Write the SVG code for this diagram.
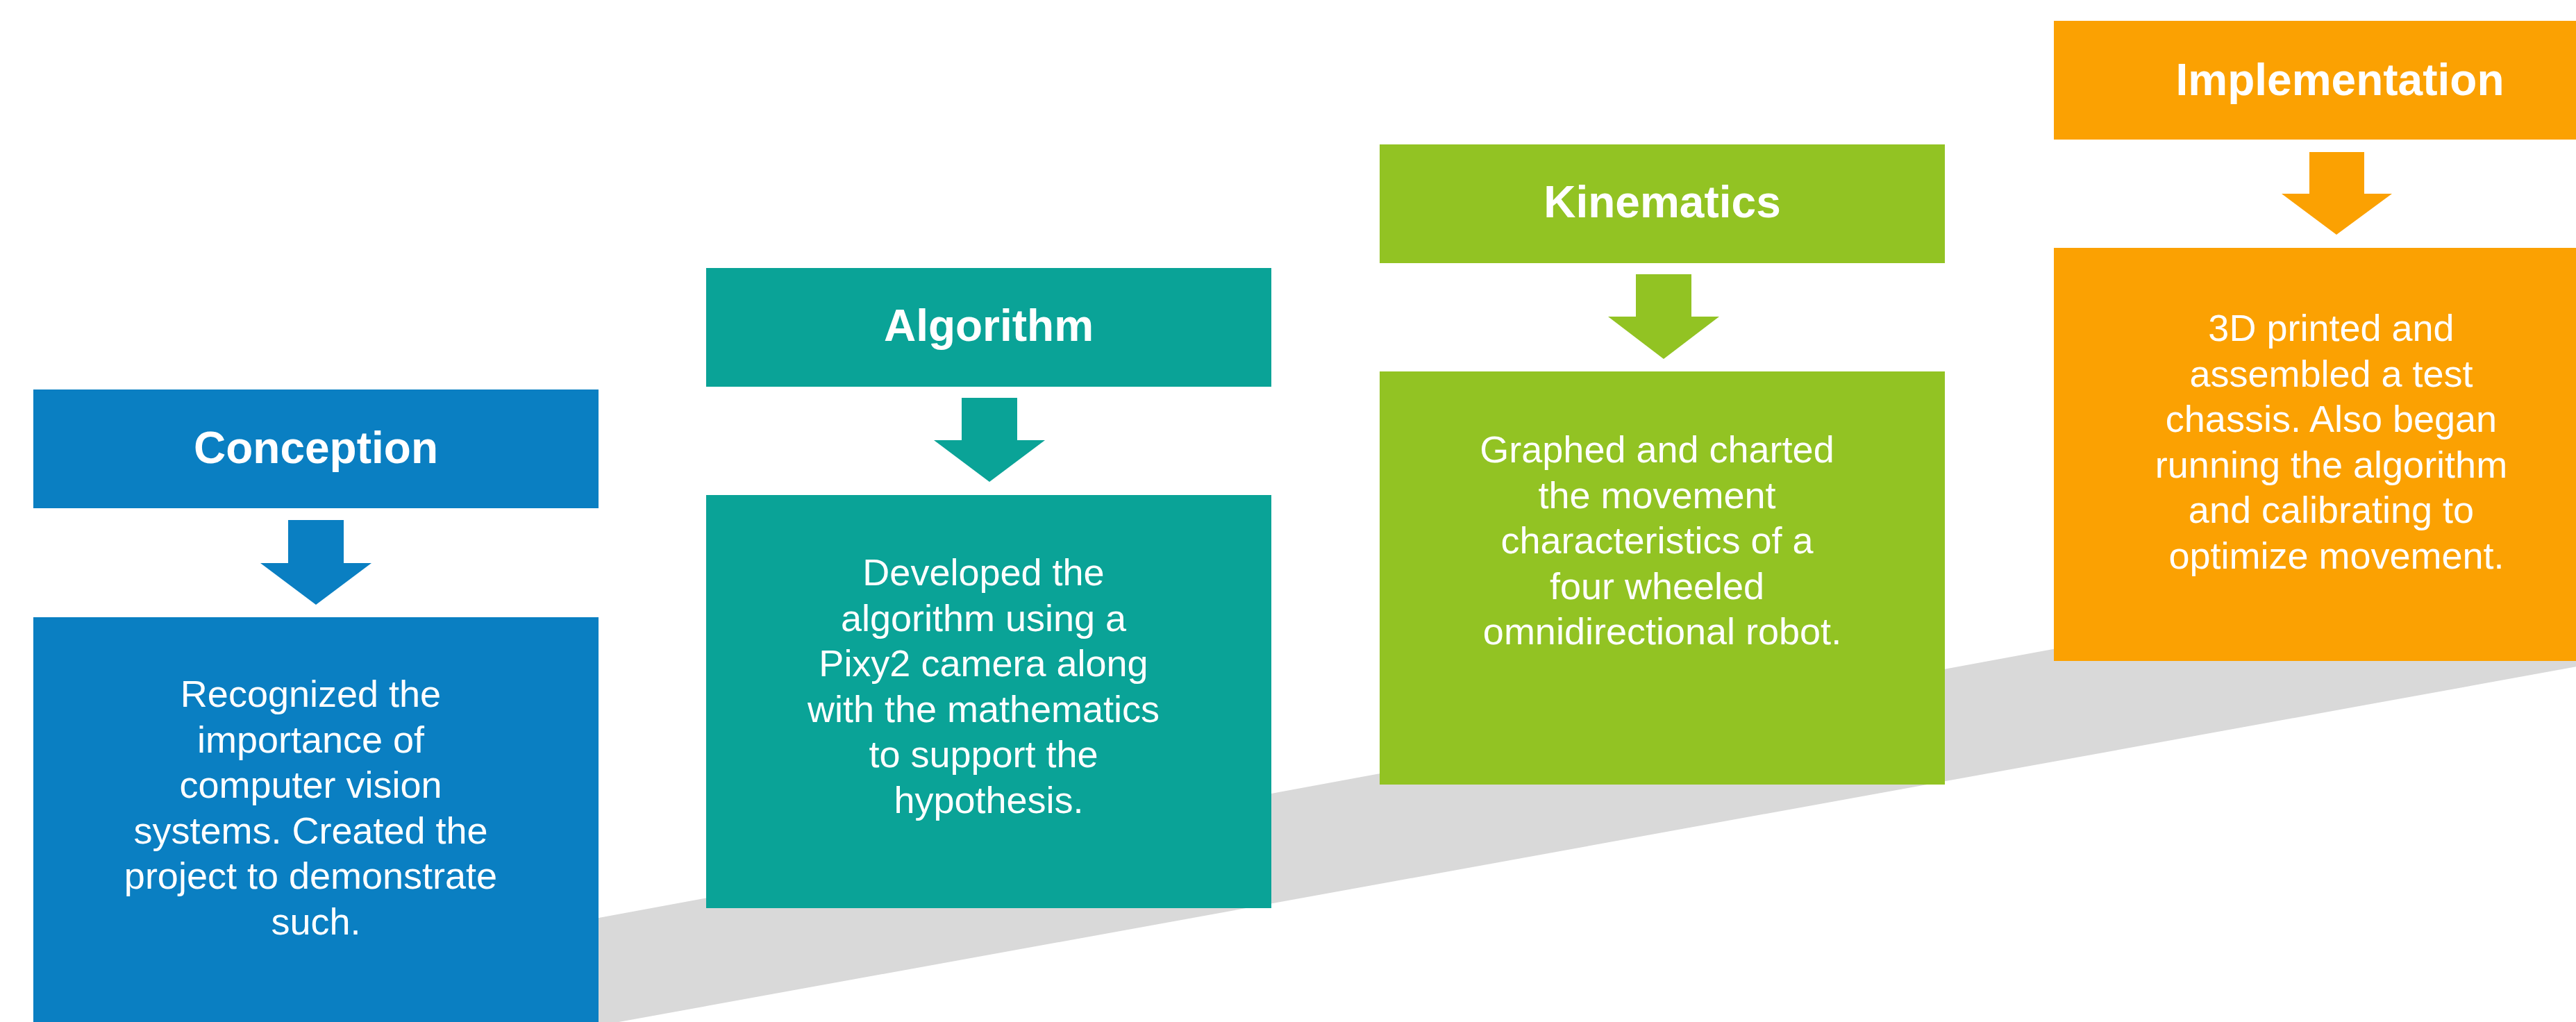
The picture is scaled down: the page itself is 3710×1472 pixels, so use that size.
<svg xmlns="http://www.w3.org/2000/svg" width="3710" height="1472" viewBox="0 0 3710 1472">
  <style>
    .title { font-family: "Liberation Sans", Arial, sans-serif; font-weight: bold; font-size: 64px; fill: #ffffff; text-anchor: middle; }
    .body { font-family: "Liberation Sans", Arial, sans-serif; font-size: 54px; fill: #ffffff; text-anchor: middle; }
    .blue { fill: #0A7FC2; }
    .teal { fill: #0AA397; }
    .green { fill: #92C323; }
    .orange { fill: #FBA102; }
  </style>
  <rect width="3710" height="1472" fill="#ffffff"/>

  <!-- rising grey ramp behind the steps -->
  <polygon points="500,1389 3800,779 3800,944 500,1543" fill="#D9D9D9"/>

  <!-- Step 1 -->
  <g id="conception">
    <rect class="blue" x="48" y="561" width="814" height="171"/>
    <text class="title" x="455" y="667">Conception</text>
    <rect class="blue" x="48" y="889" width="814" height="600"/>
    <text class="body">
      <tspan x="455" y="1018">Recognized the</tspan>
      <tspan x="455" y="1083.5">importance of</tspan>
      <tspan x="455" y="1149">computer vision</tspan>
      <tspan x="455" y="1214.5">systems. Created the</tspan>
      <tspan x="455" y="1280">project to demonstrate</tspan>
      <tspan x="455" y="1345.5">such.</tspan>
    </text>
  </g>

  <!-- Step 2 -->
  <g id="algorithm">
    <rect class="teal" x="1017" y="386" width="814" height="171"/>
    <text class="title" x="1424" y="491">Algorithm</text>
    <rect class="teal" x="1017" y="713" width="814" height="595"/>
    <text class="body">
      <tspan x="1424" y="843">Developed the</tspan>
      <tspan x="1424" y="908.5">algorithm using a</tspan>
      <tspan x="1424" y="974">Pixy2 camera along</tspan>
      <tspan x="1424" y="1039.5">with the mathematics</tspan>
      <tspan x="1424" y="1105">to support the</tspan>
      <tspan x="1424" y="1170.5">hypothesis.</tspan>
    </text>
  </g>

  <!-- Step 3 -->
  <g id="kinematics">
    <rect class="green" x="1987" y="208" width="814" height="171"/>
    <text class="title" x="2394" y="313">Kinematics</text>
    <rect class="green" x="1987" y="535" width="814" height="595"/>
    <text class="body">
      <tspan x="2394" y="666">Graphed and charted</tspan>
      <tspan x="2394" y="731.5">the movement</tspan>
      <tspan x="2394" y="797">characteristics of a</tspan>
      <tspan x="2394" y="862.5">four wheeled</tspan>
      <tspan x="2394" y="928">omnidirectional robot.</tspan>
    </text>
  </g>

  <!-- Step 4 -->
  <g id="implementation">
    <rect class="orange" x="2958" y="30" width="814" height="171"/>
    <text class="title" x="3370" y="137">Implementation</text>
    <rect class="orange" x="2958" y="357" width="814" height="595"/>
    <text class="body">
      <tspan x="3365" y="491">3D printed and</tspan>
      <tspan x="3365" y="556.5">assembled a test</tspan>
      <tspan x="3365" y="622">chassis. Also began</tspan>
      <tspan x="3365" y="687.5">running the algorithm</tspan>
      <tspan x="3365" y="753">and calibrating to</tspan>
      <tspan x="3365" y="818.5">optimize movement.</tspan>
    </text>
  </g>

  <!-- block arrows from each heading down to its description -->
  <g id="connectors">
    <polygon class="blue" points="415,749 495,749 495,811 535,811 455,871 375,811 415,811"/>
    <polygon class="teal" points="1385,573 1465,573 1465,634 1505,634 1425,694 1345,634 1385,634"/>
    <polygon class="green" points="2356,395 2436,395 2436,456 2476,456 2396,517 2316,456 2356,456"/>
    <polygon class="orange" points="3326,219 3405,219 3405,279 3445,279 3365,338 3286,279 3326,279"/>
  </g>
</svg>
